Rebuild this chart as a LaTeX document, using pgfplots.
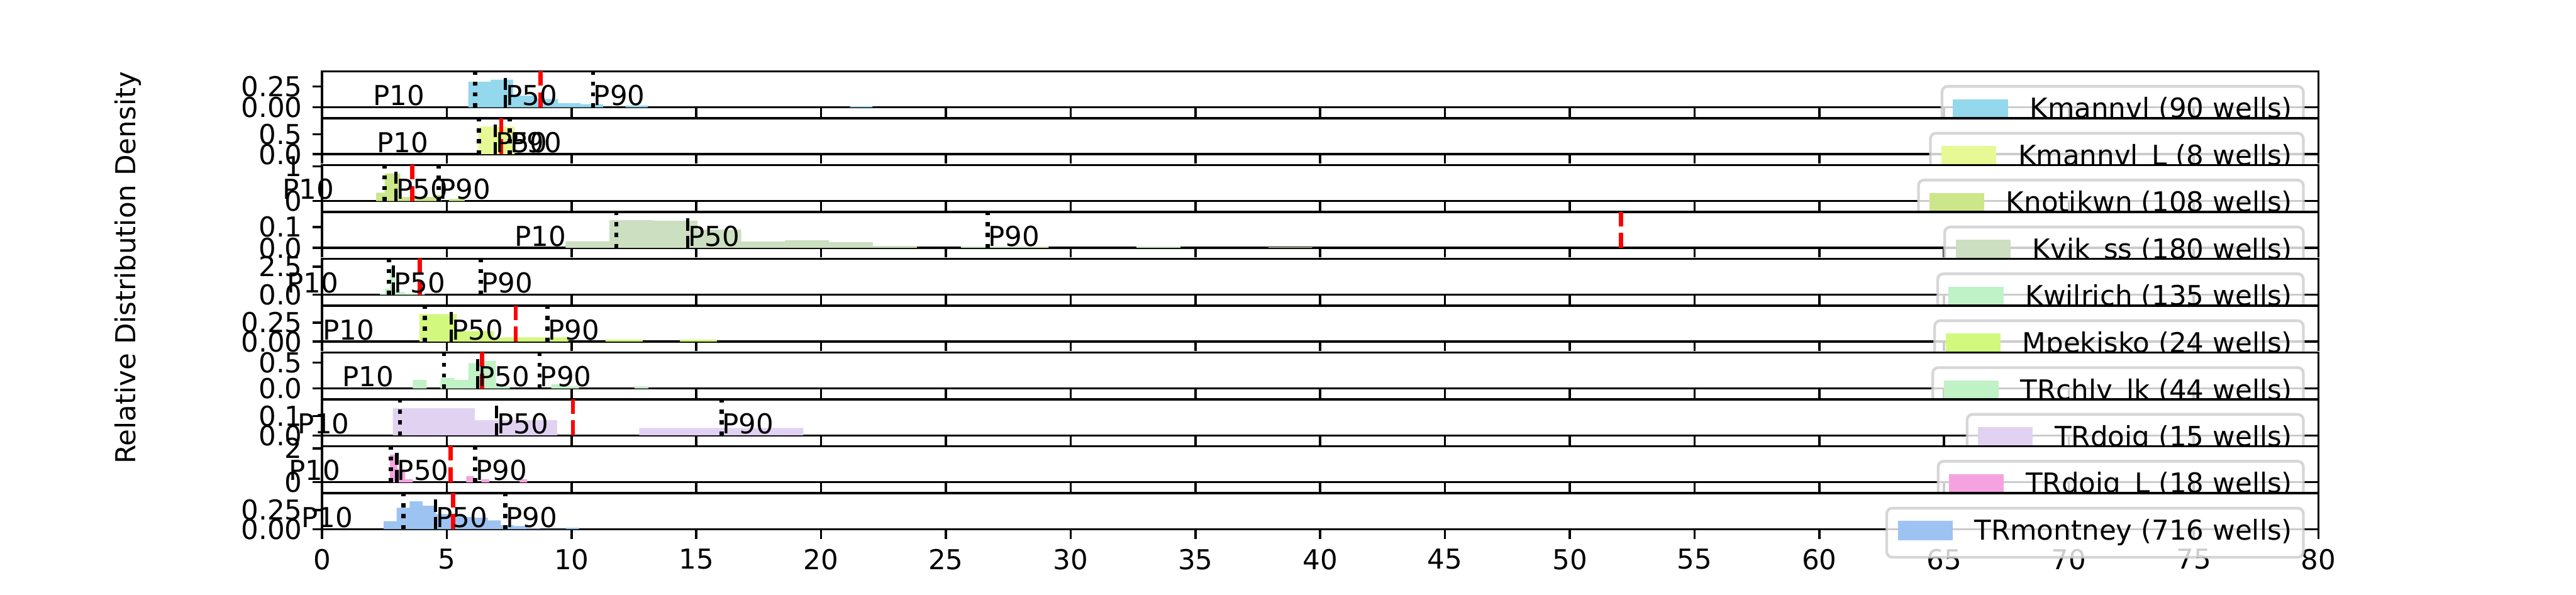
\documentclass[border=0pt]{standalone}
\usepackage{fontspec}
\setmainfont{DejaVu Sans}
\usepackage{pgfplots}
\pgfplotsset{compat=1.18}
\definecolor{c1}{HTML}{94D8EE}
\definecolor{c2}{HTML}{E6F994}
\definecolor{c3}{HTML}{CCE68A}
\definecolor{c4}{HTML}{CCDFC0}
\definecolor{c5}{HTML}{C0F2C8}
\definecolor{c6}{HTML}{D2F87E}
\definecolor{c7}{HTML}{C0F2C6}
\definecolor{c8}{HTML}{E2D2F2}
\definecolor{c9}{HTML}{F5A3E0}
\definecolor{c10}{HTML}{9DC3F2}
\definecolor{legedge}{HTML}{CCCCCC}
\tikzset{lab/.style={inner sep=0pt, font=\fontsize{10}{12}\selectfont}}
\pgfplotsset{
  hb/.style={
    scale only axis, width=725.4bp, height=13.096bp,
    xmin=0, xmax=80, ymin=0,
    clip=false,
    axis background/.style={fill=white},
    axis line style={line width=0.8pt, black},
    tick pos=left, tick align=outside,
    major tick length=3.5pt,
    tick style={line width=0.8pt, black},
    xtick={0,5,...,80},
    /pgf/number format/assume math mode=true,
    tick label style={font=\fontsize{10}{12}\selectfont},
    yticklabel style={anchor=east, inner sep=0pt, xshift=-3.5pt},
    xticklabel style={anchor=north, inner sep=0pt, yshift=-3.5pt},
    legend style={at={(1,1)}, anchor=north east, xshift=-5pt, yshift=-5pt,
      draw=legedge, line width=1pt, fill=white, fill opacity=0.8, draw opacity=0.8, text opacity=1,
      rounded corners=2pt, inner xsep=4pt, inner ysep=4pt, column sep=8pt,
      font=\fontsize{10}{12}\selectfont,
      nodes={inner sep=0pt, text height=7.6pt, text depth=2.3pt}},
    legend image code/.code={\fill[#1, sharp corners, fill opacity=1] (0pt,-2.7pt) rectangle (20pt,4.3pt);},
  },
  hp/.style={fill=#1, draw=none, const plot},
  p10/.style={forget plot, black, line width=1.5pt, dash pattern=on 1.5pt off 2.475pt},
  p50/.style={forget plot, black, line width=1.2pt, dash pattern=on 4.44pt off 1.92pt},
  pm/.style={forget plot, red, line width=1.5pt, dash pattern=on 5.55pt off 2.4pt},
}
\begin{document}
\begin{tikzpicture}
\useasboundingbox (0,0) rectangle (936bp,216bp);
\node[rotate=90, font=\fontsize{10}{12}\selectfont] at (46.5bp,118.7bp) {Relative Distribution Density};
% 1 Kmannvl
\begin{axis}[hb, at={(117bp,176.985bp)}, anchor=south west, ymax=0.431, xticklabels={}, ytick={0,0.25}, yticklabels={0.00,0.25}]
\addplot[hp=c1] coordinates {(5.86,0.308) (6.76,0.331) (7.66,0.14) (8.56,0.101) (9.46,0.051) (10.36,0.039) (11.26,0) (12.16,0.024) (13.06,0) (21.16,0.0123) (22.06,0.0123)} \closedcycle;
\addlegendentry{Kmannvl (90 wells)}
\addplot[p10] coordinates {(6.14,0) (6.14,0.431)};
\addplot[p50] coordinates {(7.34,0) (7.34,0.431)};
\addplot[p10] coordinates {(10.86,0) (10.86,0.431)};
\addplot[pm] coordinates {(8.76,0) (8.76,0.431)};
\node[lab, anchor=base east] at (axis cs:4.14,0.0237) {P10};
\node[lab, anchor=base west] at (axis cs:7.34,0.0237) {P50};
\node[lab, anchor=base west] at (axis cs:10.86,0.0237) {P90};
\end{axis}
% 2 Kmannvl_L
\begin{axis}[hb, at={(117bp,159.96bp)}, anchor=south west, ymax=0.905, xticklabels={}, ytick={0,0.5}, yticklabels={0.0,0.5}]
\addplot[hp=c2] coordinates {(6.26,0.694) (7.72,0.694)} \closedcycle;
\addlegendentry{Kmannvl\_L (8 wells)}
\addplot[p10] coordinates {(6.29,0) (6.29,0.905)};
\addplot[p50] coordinates {(6.95,0) (6.95,0.905)};
\addplot[p10] coordinates {(7.52,0) (7.52,0.905)};
\addplot[pm] coordinates {(7.18,0) (7.18,0.905)};
\node[lab, anchor=base east] at (axis cs:4.29,0.0498) {P10};
\node[lab, anchor=base west] at (axis cs:6.95,0.0498) {P50};
\node[lab, anchor=base west] at (axis cs:7.52,0.0498) {P90};
\end{axis}
% 3 Knotikwn
\begin{axis}[hb, at={(117bp,142.935bp)}, anchor=south west, ymax=1.036, xticklabels={}, ytick={0,1}, yticklabels={0,1}]
\addplot[hp=c3] coordinates {(2.17,0.24) (2.51,0.797) (3.14,0.115) (4.44,0.178) (4.78,0) (5.09,0.06) (5.45,0.10) (5.72,0.10)} \closedcycle;
\addlegendentry{Knotikwn (108 wells)}
\addplot[p10] coordinates {(2.51,0) (2.51,1.036)};
\addplot[p50] coordinates {(2.96,0) (2.96,1.036)};
\addplot[p10] coordinates {(4.67,0) (4.67,1.036)};
\addplot[pm] coordinates {(3.61,0) (3.61,1.036)};
\node[lab, anchor=base east] at (axis cs:0.51,0.057) {P10};
\node[lab, anchor=base west] at (axis cs:2.96,0.057) {P50};
\node[lab, anchor=base west] at (axis cs:4.67,0.057) {P90};
\end{axis}
% 4 Kvik_ss
\begin{axis}[hb, at={(117bp,125.91bp)}, anchor=south west, ymax=0.173, xticklabels={}, ytick={0,0.1}, yticklabels={0.0,0.1}]
\addplot[hp=c4] coordinates {(9.76,0.0317) (11.52,0.133) (13.28,0.131) (15.04,0.088) (16.80,0.031) (18.56,0.037) (20.32,0.028) (22.08,0.0095) (23.84,0) (25.60,0.0063) (27.36,0.0063) (29.12,0) (32.64,0.0063) (34.40,0) (37.92,0.0032) (39.68,0)} \closedcycle;
\addlegendentry{Kvik\_ss (180 wells)}
\addplot[p10] coordinates {(11.80,0) (11.80,0.173)};
\addplot[p50] coordinates {(14.66,0) (14.66,0.173)};
\addplot[p10] coordinates {(26.67,0) (26.67,0.173)};
\addplot[pm] coordinates {(52.06,0) (52.06,0.173)};
\node[lab, anchor=base east] at (axis cs:9.80,0.0095) {P10};
\node[lab, anchor=base west] at (axis cs:14.66,0.0095) {P50};
\node[lab, anchor=base west] at (axis cs:26.67,0.0095) {P90};
\end{axis}
% 5 Kwilrich
\begin{axis}[hb, at={(117bp,108.885bp)}, anchor=south west, ymax=3.21, xticklabels={}, ytick={0,2.5}, yticklabels={0.0,2.5}]
\addplot[hp=c5] coordinates {(2.32,0.10) (2.52,0.55) (2.72,2.47) (2.92,0.45) (3.12,0.25) (3.32,0.11) (3.52,0.11) (3.72,0.11) (3.92,0.11) (4.12,0)} \closedcycle;
\addlegendentry{Kwilrich (135 wells)}
\addplot[p10] coordinates {(2.68,0) (2.68,3.21)};
\addplot[p50] coordinates {(2.86,0) (2.86,3.21)};
\addplot[p10] coordinates {(6.37,0) (6.37,3.21)};
\addplot[pm] coordinates {(3.92,0) (3.92,3.21)};
\node[lab, anchor=base east] at (axis cs:0.68,0.177) {P10};
\node[lab, anchor=base west] at (axis cs:2.86,0.177) {P50};
\node[lab, anchor=base west] at (axis cs:6.37,0.177) {P90};
\end{axis}
% 6 Mpekisko
\begin{axis}[hb, at={(117bp,91.86bp)}, anchor=south west, ymax=0.473, xticklabels={}, ytick={0,0.25}, yticklabels={0.00,0.25}]
\addplot[hp=c6] coordinates {(3.91,0.363) (5.40,0.140) (6.89,0.056) (8.38,0.056) (9.87,0) (11.36,0.028) (12.85,0) (14.34,0.028) (15.83,0)} \closedcycle;
\addlegendentry{Mpekisko (24 wells)}
\addplot[p10] coordinates {(4.12,0) (4.12,0.473)};
\addplot[p50] coordinates {(5.18,0) (5.18,0.473)};
\addplot[p10] coordinates {(9.04,0) (9.04,0.473)};
\addplot[pm] coordinates {(7.76,0) (7.76,0.473)};
\node[lab, anchor=base east] at (axis cs:2.12,0.026) {P10};
\node[lab, anchor=base west] at (axis cs:5.18,0.026) {P50};
\node[lab, anchor=base west] at (axis cs:9.04,0.026) {P90};
\end{axis}
% 7 TRchly_lk
\begin{axis}[hb, at={(117bp,74.835bp)}, anchor=south west, ymax=0.695, xticklabels={}, ytick={0,0.5}, yticklabels={0.0,0.5}]
\addplot[hp=c7] coordinates {(3.64,0.164) (4.195,0) (4.75,0.205) (5.305,0.164) (5.86,0.49) (6.415,0.533) (6.97,0.041) (7.525,0) (9.19,0.082) (9.745,0.041) (10.30,0) (12.52,0.041) (13.075,0)} \closedcycle;
\addlegendentry{TRchly\_lk (44 wells)}
\addplot[p10] coordinates {(4.89,0) (4.89,0.695)};
\addplot[p50] coordinates {(6.24,0) (6.24,0.695)};
\addplot[p10] coordinates {(8.72,0) (8.72,0.695)};
\addplot[pm] coordinates {(6.41,0) (6.41,0.695)};
\node[lab, anchor=base east] at (axis cs:2.89,0.0382) {P10};
\node[lab, anchor=base west] at (axis cs:6.24,0.0382) {P50};
\node[lab, anchor=base west] at (axis cs:8.72,0.0382) {P90};
\end{axis}
% 8 TRdoig
\begin{axis}[hb, at={(117bp,57.81bp)}, anchor=south west, ymax=0.186, xticklabels={}, ytick={0,0.1}, yticklabels={0.0,0.1}]
\addplot[hp=c8] coordinates {(2.84,0.1405) (6.13,0.078) (9.42,0) (12.71,0.0385) (16.0,0.0385) (19.29,0)} \closedcycle;
\addlegendentry{TRdoig (15 wells)}
\addplot[p10] coordinates {(3.12,0) (3.12,0.186)};
\addplot[p50] coordinates {(6.99,0) (6.99,0.186)};
\addplot[p10] coordinates {(16.02,0) (16.02,0.186)};
\addplot[pm] coordinates {(10.05,0) (10.05,0.186)};
\node[lab, anchor=base east] at (axis cs:1.12,0.0102) {P10};
\node[lab, anchor=base west] at (axis cs:6.99,0.0102) {P50};
\node[lab, anchor=base west] at (axis cs:16.02,0.0102) {P90};
\end{axis}
% 9 TRdoig_L
\begin{axis}[hb, at={(117bp,40.785bp)}, anchor=south west, ymax=2.124, xticklabels={}, ytick={0,2}, yticklabels={0,2}]
\addplot[hp=c9] coordinates {(2.72,1.634) (3.026,0.726) (3.332,0.1816) (3.638,0) (5.78,0.363) (6.086,0) (6.392,0.1816) (6.698,0) (7.92,0.1816) (8.226,0)} \closedcycle;
\addlegendentry{TRdoig\_L (18 wells)}
\addplot[p10] coordinates {(2.76,0) (2.76,2.124)};
\addplot[p50] coordinates {(3.00,0) (3.00,2.124)};
\addplot[p10] coordinates {(6.14,0) (6.14,2.124)};
\addplot[pm] coordinates {(5.15,0) (5.15,2.124)};
\node[lab, anchor=base east] at (axis cs:0.76,0.117) {P10};
\node[lab, anchor=base west] at (axis cs:3.00,0.117) {P50};
\node[lab, anchor=base west] at (axis cs:6.14,0.117) {P90};
\end{axis}
% 10 TRmontney
\begin{axis}[hb, at={(117bp,23.76bp)}, anchor=south west, ymax=0.473, ytick={0,0.25}, yticklabels={0.00,0.25}]
\addplot[hp=c10] coordinates {(2.470,0.105) (2.992,0.28) (3.514,0.364) (4.036,0.307) (4.558,0.198) (5.080,0.17) (5.602,0.16) (6.124,0.149) (6.646,0.114) (7.168,0.053) (7.690,0.040) (8.212,0.008) (8.734,0.003) (9.256,0.003) (9.778,0.0175) (10.300,0)} \closedcycle;
\addlegendentry{TRmontney (716 wells)}
\addplot[p10] coordinates {(3.26,0) (3.26,0.473)};
\addplot[p50] coordinates {(4.54,0) (4.54,0.473)};
\addplot[p10] coordinates {(7.34,0) (7.34,0.473)};
\addplot[pm] coordinates {(5.25,0) (5.25,0.473)};
\node[lab, anchor=base east] at (axis cs:1.26,0.026) {P10};
\node[lab, anchor=base west] at (axis cs:4.54,0.026) {P50};
\node[lab, anchor=base west] at (axis cs:7.34,0.026) {P90};
\end{axis}
\end{tikzpicture}
\end{document}
